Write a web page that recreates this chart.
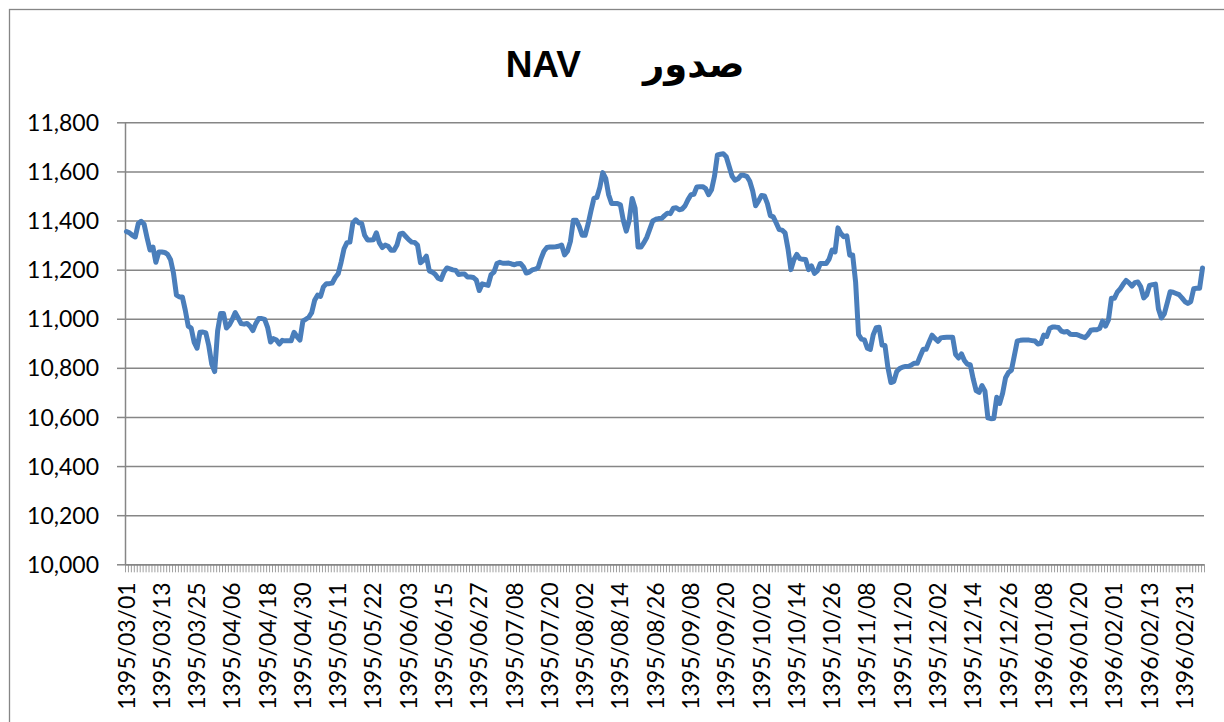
<!DOCTYPE html>
<html>
<head>
<meta charset="utf-8">
<script src="https://cdn.jsdelivr.net/npm/d3@7"></script>
<style>
  body { margin: 0; background: #fff; }
  svg { display: block; }
  .tick text { font-family: Lato, "Liberation Sans", sans-serif; font-size: 23px; fill: #000; }
  .axis path, .axis line, .grid line { stroke: #868686; }
</style>
</head>
<body>
<div id="chart"></div>
<script>
// category labels shown on the x axis (one every 12 trading days)
var tickLabels = [
  "1395/03/01", "1395/03/13", "1395/03/25", "1395/04/06", "1395/04/18",
  "1395/04/30", "1395/05/11", "1395/05/22", "1395/06/03", "1395/06/15",
  "1395/06/27", "1395/07/08", "1395/07/20", "1395/08/02", "1395/08/14",
  "1395/08/26", "1395/09/08", "1395/09/20", "1395/10/02", "1395/10/14",
  "1395/10/26", "1395/11/08", "1395/11/20", "1395/12/02", "1395/12/14",
  "1395/12/26", "1396/01/08", "1396/01/20", "1396/02/01", "1396/02/13",
  "1396/02/31"
];
var labelStep = 12;

var yTicks = [10000, 10200, 10400, 10600, 10800, 11000, 11200, 11400, 11600, 11800];

// daily NAV
var nav = [
  11355, 11350, 11340, 11333, 11387, 11397, 11385, 11330, 11280, 11292,
  11230, 11272, 11272, 11270, 11262, 11240, 11185, 11096, 11089, 11089,
  11035, 10970, 10962, 10905, 10880, 10945, 10946, 10942, 10890, 10815,
  10785, 10950, 11021, 11021, 10962, 10975, 10998, 11025, 11003, 10980,
  10978, 10981, 10970, 10952, 10981, 11001, 11001, 10997, 10965, 10905,
  10919, 10913, 10897, 10912, 10910, 10910, 10910, 10945, 10927, 10913, 10990,
  10998, 11006, 11025, 11075, 11096, 11091, 11130, 11143, 11143, 11145,
  11168, 11183, 11230, 11285, 11310, 11312, 11390, 11403, 11391, 11388,
  11340, 11321, 11321, 11322, 11350, 11310, 11290, 11300, 11295, 11279,
  11279, 11300, 11345, 11348, 11335, 11322, 11312, 11311, 11300, 11228,
  11238, 11255, 11195, 11190, 11181, 11165, 11160, 11190, 11207, 11203,
  11199, 11197, 11180, 11182, 11182, 11170, 11170, 11168, 11157, 11115,
  11142, 11139, 11136, 11180, 11190, 11225, 11230, 11226, 11226, 11227,
  11223, 11220, 11224, 11225, 11211, 11186, 11190, 11199, 11202, 11208,
  11245, 11275, 11290, 11292, 11292, 11293, 11295, 11300, 11260, 11275,
  11315, 11401, 11401, 11375, 11340, 11340, 11385, 11440, 11490, 11494,
  11535, 11595, 11572, 11505, 11469, 11469, 11469, 11464, 11400, 11357, 11400,
  11490, 11450, 11292, 11292, 11310, 11332, 11365, 11398, 11405, 11408,
  11408, 11420, 11430, 11428, 11450, 11452, 11444, 11447, 11460, 11485,
  11505, 11507, 11537, 11538, 11538, 11530, 11505, 11525, 11580, 11667,
  11670, 11672, 11660, 11620, 11580, 11564, 11570, 11584, 11584, 11580,
  11560, 11520, 11460, 11480, 11502, 11500, 11469, 11420, 11415, 11390,
  11363, 11361, 11350, 11285, 11200, 11240, 11262, 11245, 11242, 11241,
  11200, 11215, 11185, 11195, 11225, 11225, 11225, 11243, 11280, 11272,
  11370, 11347, 11334, 11338, 11259, 11260, 11150, 10935, 10917, 10914,
  10880, 10875, 10935, 10963, 10965, 10893, 10891, 10800, 10740, 10745,
  10785, 10797, 10803, 10806, 10806, 10812, 10819, 10819, 10848, 10876,
  10876, 10905, 10933, 10920, 10908, 10922, 10924, 10925, 10925, 10925, 10855,
  10840, 10857, 10830, 10815, 10813, 10755, 10707, 10700, 10728, 10705,
  10596, 10593, 10594, 10680, 10655, 10696, 10760, 10781, 10790, 10850,
  10910, 10912, 10913, 10913, 10913, 10911, 10909, 10897, 10900, 10933,
  10928, 10960, 10966, 10966, 10964, 10950, 10946, 10948, 10937, 10936,
  10936, 10932, 10927, 10923, 10935, 10953, 10955, 10955, 10960, 10990,
  10970, 10995, 11083, 11083, 11108, 11122, 11140, 11156, 11146, 11133,
  11147, 11150, 11130, 11085, 11097, 11136, 11139, 11141, 11040, 11003,
  11020, 11065, 11110, 11108, 11103, 11098, 11085, 11070, 11062, 11070,
  11122, 11124, 11124, 11207
];

var width = 1224;
var height = 722;
var plot = { left: 125, right: 1204, top: 122.3, bottom: 564.3 };

var svg = d3
  .select("#chart")
  .append("svg")
  .attr("width", width)
  .attr("height", height);

// chart frame (runs off the right and bottom of the picture)
svg
  .append("rect")
  .attr("x", 9.5)
  .attr("y", 9.5)
  .attr("width", width + 20)
  .attr("height", height + 20)
  .attr("fill", "none")
  .attr("stroke", "#868686")
  .attr("stroke-width", 1.3);

// title
var title = svg
  .append("text")
  .attr("y", 77)
  .style("font-family", "'Liberation Sans', 'DejaVu Sans', sans-serif")
  .style("font-weight", "bold")
  .style("font-size", "37px");
title.append("tspan").attr("x", 581).attr("text-anchor", "end").text("NAV");
title.append("tspan").attr("x", 643).attr("text-anchor", "start").text("صدور");

var x = d3
  .scaleBand()
  .domain(d3.range(nav.length))
  .range([plot.left, plot.right]);

var y = d3
  .scaleLinear()
  .domain([10000, 11800])
  .range([plot.bottom, plot.top]);

// horizontal gridlines
svg
  .append("g")
  .attr("class", "grid")
  .attr("transform", "translate(" + plot.left + ",0)")
  .call(
    d3
      .axisLeft(y)
      .tickValues(yTicks)
      .tickSize(-(plot.right - plot.left))
      .tickFormat("")
  )
  .call(function(g) {
    g.select(".domain").remove();
  })
  .selectAll("line")
  .attr("stroke-width", 1.5);

// y axis
svg
  .append("g")
  .attr("class", "axis")
  .attr("transform", "translate(" + plot.left + ",0)")
  .call(
    d3
      .axisLeft(y)
      .tickValues(yTicks)
      .tickSize(8)
      .tickSizeOuter(0)
      .tickPadding(18)
      .tickFormat(d3.format(","))
  )
  .call(function(g) {
    g.selectAll("path, line").attr("stroke-width", 1.5);
    g.selectAll("text").attr("dy", "0.35em");
  });

// x axis: one small tick per category boundary
var edge = d3
  .scaleLinear()
  .domain([0, nav.length])
  .range([plot.left, plot.right]);

svg
  .append("g")
  .attr("class", "axis")
  .attr("transform", "translate(0," + plot.bottom + ")")
  .call(
    d3
      .axisBottom(edge)
      .tickValues(d3.range(nav.length + 1))
      .tickSize(8)
      .tickSizeOuter(0)
      .tickFormat("")
  )
  .call(function(g) {
    g.select(".domain").attr("stroke-width", 1.5);
    g.selectAll("line").attr("stroke-width", 0.8);
  });

// x axis labels
var labelIdx = tickLabels.map(function(d, i) {
  return i * labelStep;
});

svg
  .append("g")
  .attr("class", "axis")
  .attr("transform", "translate(0," + plot.bottom + ")")
  .call(
    d3
      .axisBottom(x)
      .tickValues(labelIdx)
      .tickSize(0)
      .tickFormat(function(d) {
        return tickLabels[d / labelStep];
      })
  )
  .call(function(g) {
    g.select(".domain").remove();
    g.selectAll("text")
      .attr("transform", "rotate(-90)")
      .attr("x", -18)
      .attr("y", 0)
      .attr("dy", "0.35em")
      .style("text-anchor", "end");
  });

// NAV line
var line = d3
  .line()
  .x(function(d, i) {
    return x(i) + x.bandwidth() / 2;
  })
  .y(function(d) {
    return y(d);
  });

svg
  .append("path")
  .datum(nav)
  .attr("d", line)
  .attr("fill", "none")
  .attr("stroke", "#4a7ebb")
  .attr("stroke-width", 5)
  .attr("stroke-linejoin", "round")
  .attr("stroke-linecap", "round");
</script>
</body>
</html>
